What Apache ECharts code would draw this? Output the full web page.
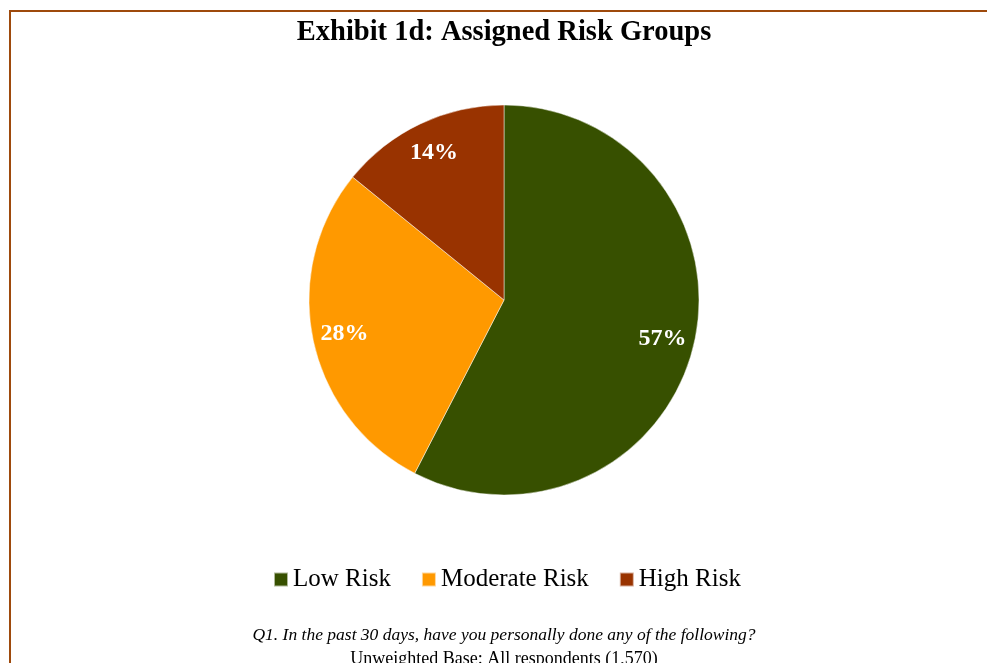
<!DOCTYPE html>
<html>
<head>
<meta charset="utf-8">
<title>Exhibit 1d: Assigned Risk Groups</title>
<script src="https://cdn.jsdelivr.net/npm/echarts@6/dist/echarts.min.js"></script>
<style>
  html, body { margin: 0; padding: 0; background: #ffffff; overflow: hidden; }
  #chart { position: absolute; left: 0; top: 0; width: 1008px; height: 663px; }
  #frame {
    position: absolute; left: 9px; top: 10px; width: 990px; height: 700px;
    border-top: 2px solid #9E4A0C; border-left: 2px solid #9E4A0C;
    pointer-events: none;
  }
</style>
</head>
<body>
<div id="chart"></div>
<div id="frame"></div>
<script>
// Risk groups and their shares (percent of respondents)
const categories = ['Low Risk', 'Moderate Risk', 'High Risk'];
const shares = [57, 28, 14];
const sliceColors = ['#375000', '#FF9900', '#993300'];

const titleText = 'Exhibit 1d: Assigned Risk Groups';
const questionText = 'Q1. In the past 30 days, have you personally done any of the following?';
const baseText = 'Unweighted Base: All respondents (1,570)';

const serif = '"Liberation Serif", "DejaVu Serif", serif';

const pieData = categories.map((name, i) => ({
  name: name,
  value: shares[i],
  itemStyle: { color: sliceColors[i] }
}));

const chart = echarts.init(document.getElementById('chart'), null, { renderer: 'canvas' });

chart.setOption({
  backgroundColor: '#ffffff',
  animation: false,
  title: [
    {
      text: titleText,
      left: 'center',
      top: 13,
      textStyle: { fontFamily: serif, fontWeight: 'bold', fontSize: 28.5, color: '#000000' }
    },
    {
      text: questionText,
      left: 'center',
      top: 621,
      textStyle: { fontFamily: serif, fontStyle: 'italic', fontWeight: 'normal', fontSize: 17.5, color: '#000000' }
    },
    {
      text: baseText,
      left: 'center',
      top: 645,
      textStyle: { fontFamily: serif, fontWeight: 'normal', fontSize: 18, color: '#000000' }
    }
  ],
  legend: {
    data: categories,
    top: 562,
    left: 268,
    icon: 'rect',
    itemWidth: 14,
    itemHeight: 14,
    itemGap: 30,
    textStyle: { fontFamily: serif, fontSize: 25, color: '#000000' }
  },
  series: [
    {
      // the pie itself
      type: 'pie',
      center: [504, 300],
      radius: 195,
      startAngle: 90,
      clockwise: true,
      silent: true,
      label: { show: false },
      labelLine: { show: false },
      itemStyle: { borderColor: 'rgba(255,255,255,0.6)', borderWidth: 0.8 },
      data: pieData
    },
    {
      // transparent ring that carries the percentage labels toward the rim
      type: 'pie',
      center: [504, 300],
      radius: [125, 195],
      startAngle: 90,
      clockwise: true,
      silent: true,
      itemStyle: { color: 'rgba(0,0,0,0)', borderWidth: 0 },
      label: {
        show: true,
        position: 'inside',
        formatter: p => p.value + '%',
        fontFamily: serif,
        fontWeight: 'bold',
        fontSize: 24,
        color: '#ffffff'
      },
      labelLine: { show: false },
      data: categories.map((name, i) => ({ name: name, value: shares[i] }))
    }
  ]
});
</script>
</body>
</html>
